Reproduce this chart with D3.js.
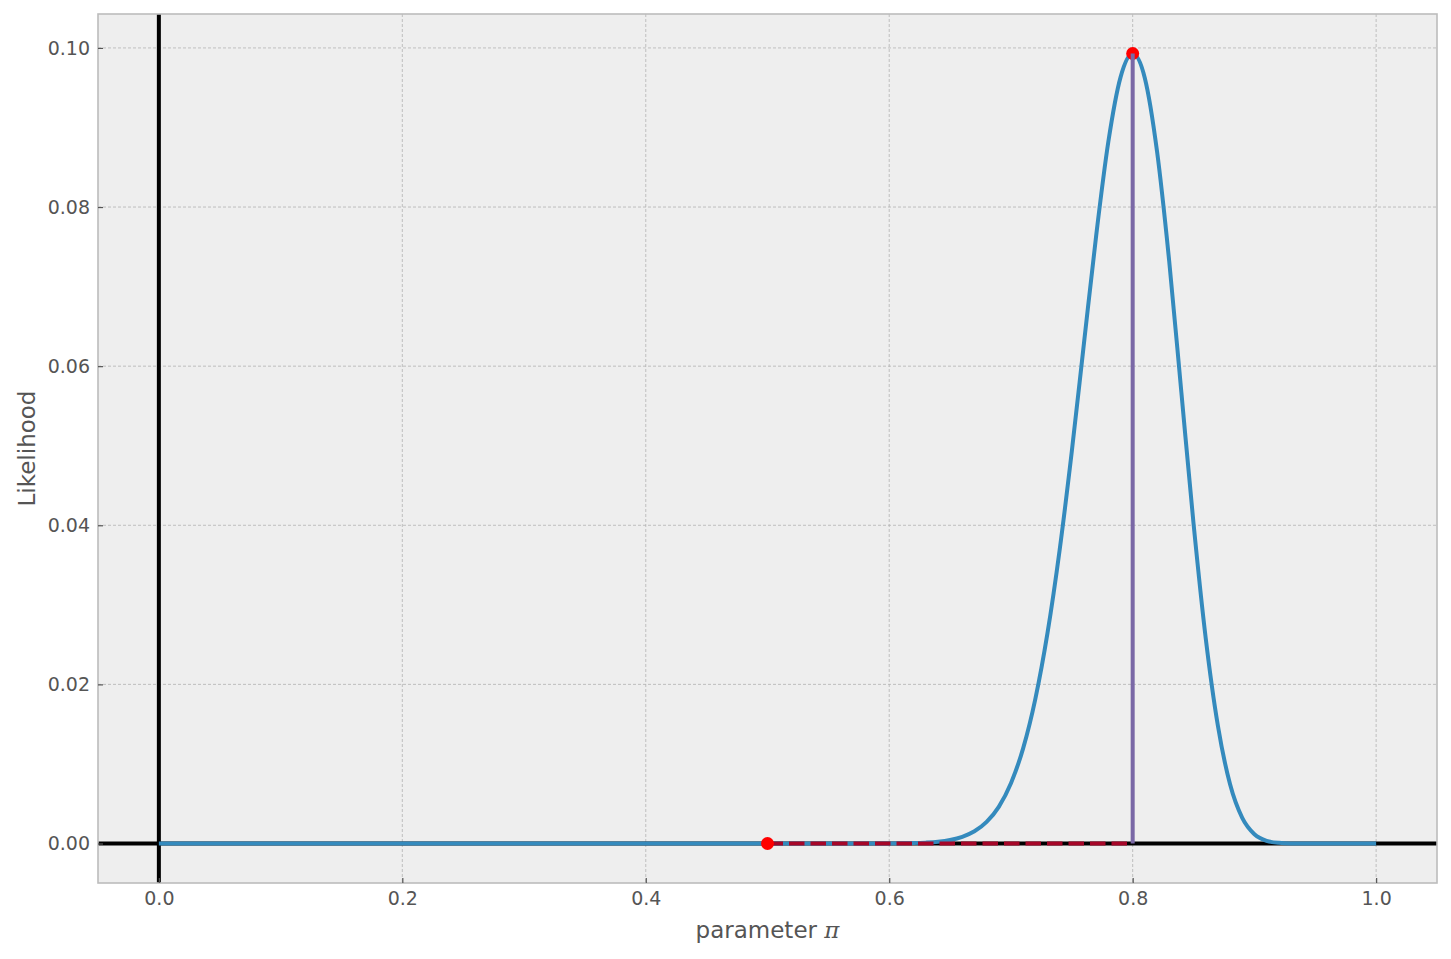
<!DOCTYPE html>
<html><head><meta charset="utf-8">
<script src="https://cdn.jsdelivr.net/npm/d3@7"></script>
<style>body{margin:0;background:#fff;} text{font-family:"DejaVu Sans",sans-serif;}</style>
</head><body>
<svg id="c" width="1451" height="959"></svg>
<script>
// Likelihood curve (parameter pi, likelihood)
const piValues = [0.0,0.1,0.2,0.3,0.4,0.5,0.55,0.6,0.62,0.63,0.64,0.65,0.66,0.67,0.68,0.69,0.70,0.71,0.72,0.73,0.74,0.75,0.76,0.77,0.78,0.79,0.80,0.81,0.82,0.83,0.84,0.85,0.86,0.87,0.88,0.89,0.90,0.91,0.92,0.93,0.95,1.0];
const likelihood = [0,0,0,0,0,0,0,0.00001,0.00005,0.00011,0.00022,0.00044,0.00084,0.00153,0.00271,0.00461,0.00758,0.01196,0.01815,0.02644,0.0369,0.0493,0.0629,0.0764,0.0882,0.0963,0.0993,0.0962,0.0870,0.0732,0.0567,0.0402,0.0258,0.0148,0.00744,0.00322,0.00117,0.00034,0.00008,0.00001,0,0];
const mlePoint = [0.8, 0.0993];
const nullPoint = [0.5, 0];
const xTicks = [0.0,0.2,0.4,0.6,0.8,1.0];
const yTicks = [0.00,0.02,0.04,0.06,0.08,0.10];

const svg = d3.select("#c");
const L = 98, R = 1437, T = 14, B = 883;
const x = d3.scaleLinear().domain([-0.05, 1.05]).range([L, R]);
const y = d3.scaleLinear().domain([-0.004965, 0.104265]).range([B, T]);

svg.append("rect").attr("x",L).attr("y",T).attr("width",R-L).attr("height",B-T).attr("fill","#eeeeee");
const defs = svg.append("defs");
defs.append("clipPath").attr("id","clip").append("rect").attr("x",L).attr("y",T).attr("width",R-L).attr("height",B-T);

// grid
const g = svg.append("g");
xTicks.forEach(t=>g.append("line").attr("x1",x(t)).attr("x2",x(t)).attr("y1",T).attr("y2",B)
  .attr("stroke","#b2b2b2").attr("stroke-width",0.8).attr("stroke-dasharray","3,2"));
yTicks.forEach(t=>g.append("line").attr("x1",L).attr("x2",R).attr("y1",y(t)).attr("y2",y(t))
  .attr("stroke","#b2b2b2").attr("stroke-width",0.8).attr("stroke-dasharray","3,2"));

const p = svg.append("g").attr("clip-path","url(#clip)");
// axhline / axvline
p.append("line").attr("x1",L).attr("x2",R).attr("y1",y(0)).attr("y2",y(0)).attr("stroke","#000").attr("stroke-width",4);
p.append("line").attr("x1",x(0)).attr("x2",x(0)).attr("y1",T).attr("y2",B).attr("stroke","#000").attr("stroke-width",4);

// curve
const line = d3.line().x((d,i)=>x(piValues[i])).y(d=>y(d)).curve(d3.curveMonotoneX);
p.append("path").attr("d",line(likelihood)).attr("fill","none").attr("stroke","#348ABD").attr("stroke-width",4);

// dashed red segment
p.append("line").attr("x1",x(nullPoint[0])).attr("x2",x(mlePoint[0])).attr("y1",y(0)).attr("y2",y(0))
  .attr("stroke","#A60628").attr("stroke-width",4).attr("stroke-dasharray","15.5,6");

// dots
[nullPoint, mlePoint].forEach(d=>p.append("circle").attr("cx",x(d[0])).attr("cy",y(d[1])).attr("r",6.5).attr("fill","#ff0000"));

// vertical purple
p.append("line").attr("x1",x(mlePoint[0])).attr("x2",x(mlePoint[0])).attr("y1",y(0)).attr("y2",y(mlePoint[1]))
  .attr("stroke","#7A68A6").attr("stroke-width",4);

// frame
svg.append("rect").attr("x",L).attr("y",T).attr("width",R-L).attr("height",B-T).attr("fill","none").attr("stroke","#bcbcbc").attr("stroke-width",1.6);

// axes
const xa = svg.append("g").attr("transform",`translate(0,${B})`)
  .call(d3.axisBottom(x).tickValues(xTicks).tickFormat(d3.format(".1f")).tickSizeInner(-5).tickSizeOuter(0).tickPadding(9));
const ya = svg.append("g").attr("transform",`translate(${L},0)`)
  .call(d3.axisLeft(y).tickValues(yTicks).tickFormat(d3.format(".2f")).tickSizeInner(-5).tickSizeOuter(0).tickPadding(8));
[xa,ya].forEach(a=>{
  a.select(".domain").remove();
  a.selectAll(".tick line").attr("stroke","#555").attr("stroke-width",1.2);
  a.selectAll(".tick text").attr("fill","#555").style("font-size","19px").style("font-family","DejaVu Sans");
});

svg.append("text").attr("x",x(0.5)).attr("y",938).attr("text-anchor","middle").attr("fill","#555").style("font-size","23px")
  .text("parameter ").append("tspan").style("font-family","DejaVu Serif").attr("font-style","italic").text("π");
svg.append("text").attr("transform",`translate(35,${(T+B)/2}) rotate(-90)`).attr("text-anchor","middle").attr("fill","#555").style("font-size","23px").text("Likelihood");
</script>
</body></html>
